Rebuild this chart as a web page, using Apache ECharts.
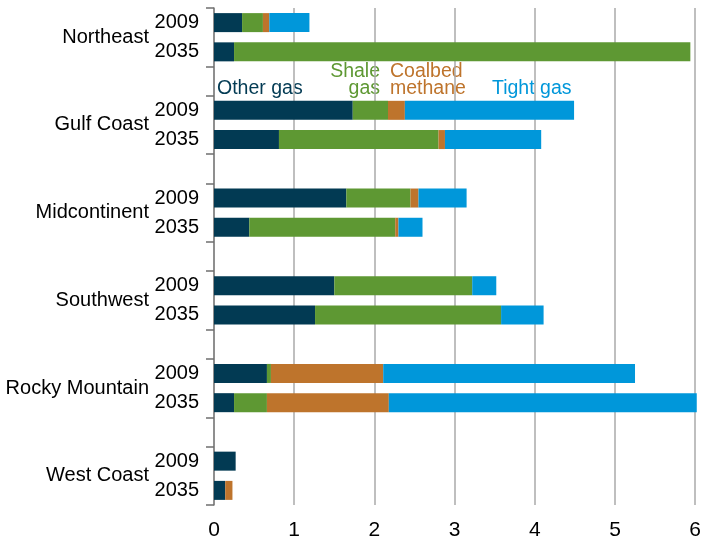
<!DOCTYPE html>
<html>
<head>
<meta charset="utf-8">
<title>Natural gas production by region, 2009 and 2035</title>
<script src="https://cdn.jsdelivr.net/npm/echarts@6/dist/echarts.min.js"></script>
<style>
  html, body { margin: 0; padding: 0; background: #fff; }
  #chart { width: 704px; height: 541px; }
</style>
</head>
<body>
<div id="chart"></div>
<script>
// values per region, in the order [2009, 2035] for each region
const regions = ['Northeast', 'Gulf Coast', 'Midcontinent', 'Southwest', 'Rocky Mountain', 'West Coast'];
const years = ['2009', '2035'];
const otherGas       = [0.35, 0.25,  1.73, 0.81,  1.65, 0.44,  1.50, 1.26,  0.66, 0.25,  0.27, 0.14];
const shaleGas       = [0.26, 5.69,  0.44, 1.99,  0.80, 1.82,  1.72, 2.32,  0.05, 0.41,  0,    0];
const coalbedMethane = [0.08, 0,     0.21, 0.08,  0.10, 0.04,  0,    0,     1.40, 1.52,  0,    0.09];
const tightGas       = [0.50, 0,     2.11, 1.20,  0.60, 0.30,  0.30, 0.53,  3.14, 3.84,  0,    0];
const xTicks = [0, 1, 2, 3, 4, 5, 6];

const font = "'Liberation Sans', Arial, sans-serif";
const navy = '#023a53', green = '#5e9833', orange = '#be742c', blue = '#0097da';

// one row per region/year, with an empty row between regions
const rows = [];
const rowIndex = [];
regions.forEach((r, i) => {
  if (i > 0) rows.push('gap' + i);
  years.forEach(y => { rowIndex.push(rows.length); rows.push(r + '|' + y); });
});
const gapRows = rows.map((r, i) => r.startsWith('gap') ? i : -1).filter(i => i >= 0);

function spread(values) {
  const out = rows.map(() => '-');
  values.forEach((v, i) => { out[rowIndex[i]] = v; });
  return out;
}

// region names sit on the boundary between their two year rows (half-row steps)
const regionSlots = [];
for (let k = 0; k <= rows.length * 2; k++) regionSlots.push(k + '|');
regions.forEach((r, i) => {
  const k = (rowIndex[i * 2] + 1) * 2;
  regionSlots[k] = k + '|' + r;
});

const chart = echarts.init(document.getElementById('chart'));

function bar(name, values, color) {
  return {
    name: name,
    type: 'bar',
    stack: 'total',
    yAxisIndex: 0,
    barWidth: '65%',
    clip: false,
    itemStyle: { color: color },
    data: spread(values)
  };
}

function note(text, x, align, color) {
  return {
    type: 'text',
    x: x,
    y: 96.8,
    style: {
      text: text,
      align: align,
      verticalAlign: 'bottom',
      fill: color,
      font: '19.5px ' + font,
      lineHeight: 17
    }
  };
}

chart.setOption({
  animation: false,
  backgroundColor: '#fff',
  textStyle: { fontFamily: font },
  grid: { left: 214, right: 7, top: 8, bottom: 36 },
  xAxis: {
    type: 'value',
    min: xTicks[0],
    max: xTicks[xTicks.length - 1],
    interval: 1,
    axisLine: { show: false },
    axisTick: { show: false },
    axisLabel: { fontSize: 21, color: '#000', margin: 15 },
    splitLine: { lineStyle: { color: '#aaaaaa', width: 1.5 } }
  },
  yAxis: [
    {
      type: 'category',
      inverse: true,
      data: rows,
      axisLine: { show: true, lineStyle: { color: '#7f7f7f', width: 1.5 } },
      axisTick: {
        show: true,
        length: 8,
        lineStyle: { color: '#6f6f6f', width: 1.5 },
        interval: i => i === 0 || gapRows.includes(i) || gapRows.includes(i - 1)
      },
      axisLabel: {
        interval: 0,
        fontSize: 20,
        color: '#000',
        margin: 15,
        formatter: v => v.split('|')[1] || ''
      },
      splitLine: { show: false }
    },
    {
      type: 'category',
      inverse: true,
      position: 'left',
      offset: 57,
      boundaryGap: false,
      data: regionSlots,
      axisLine: { show: false },
      axisTick: { show: false },
      axisLabel: {
        interval: 0,
        fontSize: 20,
        color: '#000',
        margin: 8,
        formatter: v => v.split('|')[1] || ''
      },
      splitLine: { show: false }
    }
  ],
  graphic: [
    note('Other gas', 217, 'left', navy),
    note('Shale\ngas', 380, 'right', green),
    note('Coalbed\nmethane', 390, 'left', orange),
    note('Tight gas', 492, 'left', blue)
  ],
  series: [
    bar('Other gas', otherGas, navy),
    bar('Shale gas', shaleGas, green),
    bar('Coalbed methane', coalbedMethane, orange),
    bar('Tight gas', tightGas, blue)
  ]
});
</script>
</body>
</html>
